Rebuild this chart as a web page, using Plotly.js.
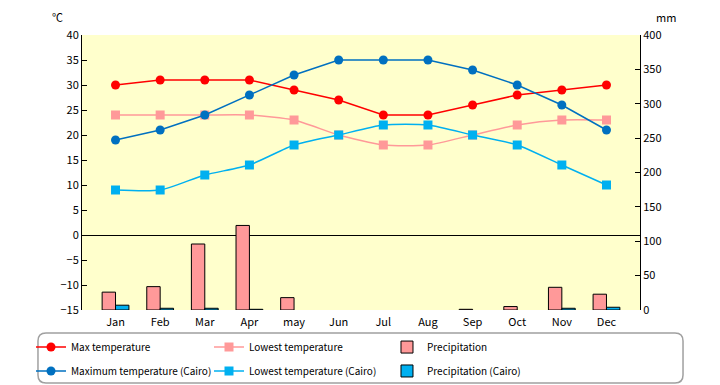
<!DOCTYPE html>
<html>
<head>
<meta charset="utf-8">
<script src="https://cdn.plot.ly/plotly-3.0.1.min.js"></script>
<style>html,body{margin:0;padding:0;background:#fff;}#chart{width:720px;height:385px;}</style>
</head>
<body>
<div id="chart"></div>
<script>
var months = ["Jan","Feb","Mar","Apr","may","Jun","Jul","Aug","Sep","Oct","Nov","Dec"];
var maxTemp = [30,31,31,31,29,27,24,24,26,28,29,30];
var lowTemp = [24,24,24,24,23,20,18,18,20,22,23,23];
var precip = [26,34,96,123,18,0,0,0,1,5,33,23];
var maxTempCairo = [19,21,24,28,32,35,35,35,33,30,26,21];
var lowTempCairo = [9,9,12,14,18,20,22,22,20,18,14,10];
var precipCairo = [7,2.5,2.5,1,0,0,0,0,0,0,2.5,4];

var FONT = "Noto Sans CJK JP, sans-serif";
function outline(vals) { return vals.map(function (v) { return v > 0 ? 1 : 0; }); }

var traces = [
  {x: months, y: maxTemp, name: "Max temperature", type: "scatter", mode: "lines+markers", legend: "legend",
   line: {color: "#FF0000", width: 1.5}, marker: {symbol: "circle", size: 9, color: "#FF0000"}},
  {x: months, y: lowTemp, name: "Lowest temperature", type: "scatter", mode: "lines+markers", legend: "legend",
   line: {color: "#FF9999", width: 1.5, shape: "spline", smoothing: 0.6}, marker: {symbol: "square", size: 9, color: "#FF9999"}},
  {x: months, y: precip, name: "Precipitation", type: "bar", yaxis: "y2", legend: "legend",
   marker: {color: "#FF9999", line: {color: "#000000", width: outline(precip)}}},
  {x: months, y: maxTempCairo, name: "Maximum temperature (Cairo)", type: "scatter", mode: "lines+markers", legend: "legend2",
   line: {color: "#0070C0", width: 1.5}, marker: {symbol: "circle", size: 9, color: "#0070C0"}},
  {x: months, y: lowTempCairo, name: "Lowest temperature (Cairo)", type: "scatter", mode: "lines+markers", legend: "legend2",
   line: {color: "#00B0F0", width: 1.5, shape: "spline", smoothing: 0.6}, marker: {symbol: "square", size: 9, color: "#00B0F0"}},
  {x: months, y: precipCairo, name: "Precipitation (Cairo)", type: "bar", yaxis: "y2", legend: "legend2",
   marker: {color: "#00B0F0", line: {color: "#000000", width: outline(precipCairo)}}}
];

function rr(x0, y0, x1, y1, rx, ry) {
  return "M" + (x0+rx) + "," + y0 + " L" + (x1-rx) + "," + y0 + " Q" + x1 + "," + y0 + " " + x1 + "," + (y0-ry) +
    " L" + x1 + "," + (y1+ry) + " Q" + x1 + "," + y1 + " " + (x1-rx) + "," + y1 +
    " L" + (x0+rx) + "," + y1 + " Q" + x0 + "," + y1 + " " + x0 + "," + (y1+ry) +
    " L" + x0 + "," + (y0-ry) + " Q" + x0 + "," + y0 + " " + (x0+rx) + "," + y0 + " Z";
}

var legendBase = {orientation: "h", xanchor: "left", yanchor: "top",
  entrywidth: 133, entrywidthmode: "pixels", bgcolor: "rgba(0,0,0,0)",
  font: {family: FONT, size: 10}, traceorder: "normal", itemwidth: 30};

var layout = {
  width: 720, height: 385,
  margin: {l: 82, r: 80, t: 35, b: 75, pad: 0, autoexpand: false},
  paper_bgcolor: "#FFFFFF",
  plot_bgcolor: "#FFFFCC",
  font: {family: FONT, size: 11, color: "#000"},
  showlegend: true,
  bargap: 0.4,
  bargroupgap: 0,
  barmode: "group",
  xaxis: {type: "category", showline: false, ticks: "", showgrid: false, fixedrange: true,
          tickfont: {size: 11}, ticklabelstandoff: 4},
  yaxis: {range: [-15, 40], tickvals: [-15,-10,-5,0,5,10,15,20,25,30,35,40], showgrid: false,
          showline: true, linecolor: "#000", linewidth: 1, ticks: "inside", ticklen: 5, tickcolor: "#000",
          zeroline: true, zerolinecolor: "#000", zerolinewidth: 1, tickfont: {size: 11}},
  yaxis2: {range: [0, 400], tickvals: [0,50,100,150,200,250,300,350,400], overlaying: "y", side: "right",
           showgrid: false, showline: true, linecolor: "#000", linewidth: 1, ticks: "inside", ticklen: 5,
           tickcolor: "#000", zeroline: false, tickfont: {size: 11}},
  legend: Object.assign({}, legendBase, {x: -0.0914, y: -0.082}),
  legend2: Object.assign({}, legendBase, {x: -0.0914, y: -0.169}),
  shapes: [
    {type: "path", xref: "paper", yref: "paper",
     path: rr(-0.0789, -0.0836, 1.0771, -0.2655, 0.0143, 0.029),
     line: {color: "#A0A0A0", width: 1.5}, fillcolor: "rgba(0,0,0,0)", layer: "below"}
  ],
  annotations: [
    {text: "℃", xref: "paper", yref: "paper", x: (57-82)/558, y: (310-17)/275, showarrow: false,
     xanchor: "center", yanchor: "middle", font: {size: 11}},
    {text: "mm", xref: "paper", yref: "paper", x: (666-82)/558, y: (310-17)/275, showarrow: false,
     xanchor: "center", yanchor: "middle", font: {size: 11}}
  ]
};

Plotly.newPlot("chart", traces, layout, {displayModeBar: false, staticPlot: true});
</script>
</body>
</html>
